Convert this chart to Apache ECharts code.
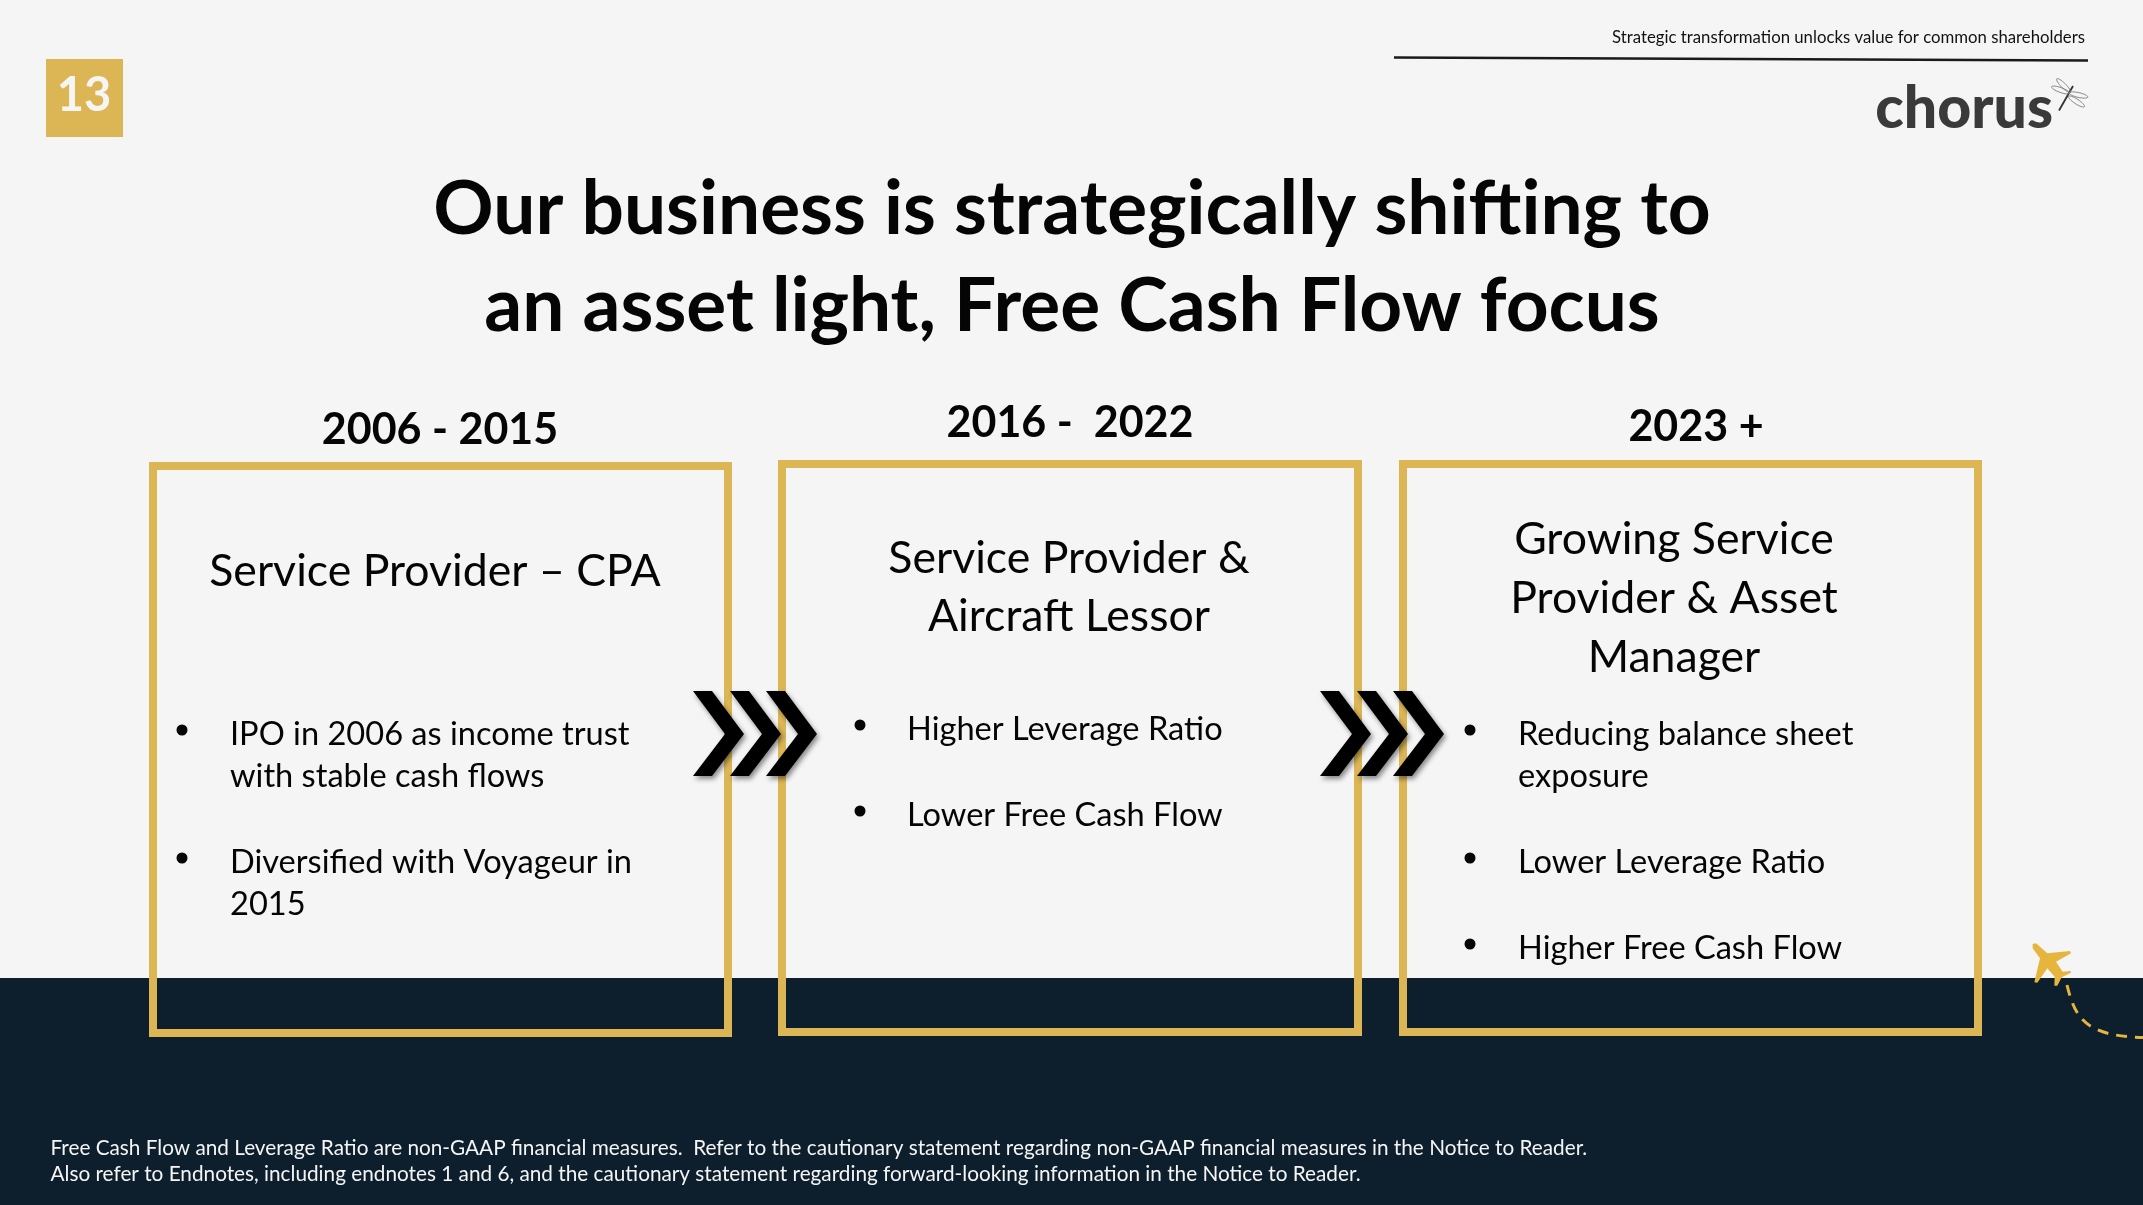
<!DOCTYPE html>
<html>
<head>
<meta charset="utf-8">
<title>Chorus</title>
<script src="https://cdn.jsdelivr.net/npm/echarts@6/dist/echarts.min.js"></script>
<style>
  html, body { margin: 0; padding: 0; background: #f5f5f5; }
  #main { width: 2143px; height: 1205px; }
</style>
</head>
<body>
<div id="main"></div>
<script>
const pageNumber = '13';
const headerNote = 'Strategic transformation unlocks value for common shareholders';
const logoText = 'chorus';
const titleLines = ['Our business is strategically shifting to', 'an asset light, Free Cash Flow focus'];
const periods = ['2006 - 2015', '2016 -  2022', '2023 +'];
const boxHeadings = [
  ['Service Provider \u2013 CPA'],
  ['Service Provider &', 'Aircraft Lessor'],
  ['Growing Service', 'Provider & Asset', 'Manager']
];
const boxBullets = [
  [['IPO in 2006 as income trust', 'with stable cash flows'], ['Diversified with Voyageur in', '2015']],
  [['Higher Leverage Ratio'], ['Lower Free Cash Flow']],
  [['Reducing balance sheet', 'exposure'], ['Lower Leverage Ratio'], ['Higher Free Cash Flow']]
];
const footnotes = [
  'Free Cash Flow and Leverage Ratio are non-GAAP financial measures.  Refer to the cautionary statement regarding non-GAAP financial measures in the Notice to Reader.',
  'Also refer to Endnotes, including endnotes 1 and 6, and the cautionary statement regarding forward-looking information in the Notice to Reader.'
];

const GOLD = '#dcb655';
const NAVY = '#0d1f2d';
const INK = '#050505';
const FONT = 'Lato, "Open Sans", sans-serif';

// layout of the three boxes, measured off the slide
const boxes = [
  { x: 149, y: 462, w: 583, h: 575, periodX: 440, periodY: 430, headX: 435, headY: [572], textX: 230, dotX: 182, lineY: [[734, 776], [862, 904]] },
  { x: 778, y: 460, w: 584, h: 576, periodX: 1070, periodY: 423, headX: 1069, headY: [559, 617], textX: 907, dotX: 860, lineY: [[729], [815]] },
  { x: 1399, y: 460, w: 583, h: 576, periodX: 1696, periodY: 427, headX: 1674, headY: [540, 599, 658], textX: 1518, dotX: 1470, lineY: [[734, 776], [862], [948]] }
];
const chevronGroups = [693, 1320];

function label(text, x, y, size, opts) {
  opts = opts || {};
  return {
    type: 'text', x: x, y: y, z: opts.z || 10,
    style: {
      text: text,
      fill: opts.fill || INK,
      fontFamily: opts.family || FONT,
      fontSize: size,
      fontWeight: opts.weight || 'normal',
      textAlign: opts.align || 'center',
      textVerticalAlign: 'middle'
    }
  };
}

function chevron(x) {
  return {
    type: 'polygon', z: 8,
    shape: { points: [[x, 691], [x + 19, 691], [x + 51, 734], [x + 19, 776], [x, 776], [x + 32, 734]] },
    style: { fill: '#000', shadowBlur: 5, shadowOffsetX: 2, shadowOffsetY: 3, shadowColor: 'rgba(0,0,0,0.45)' }
  };
}

const els = [];
els.push({ type: 'rect', z: 1, shape: { x: 0, y: 978, width: 2143, height: 227 }, style: { fill: NAVY } });

// page number and header
els.push({ type: 'rect', z: 2, shape: { x: 46, y: 59, width: 77, height: 78 }, style: { fill: GOLD } });
els.push(label(pageNumber, 84, 96, 47, { fill: '#f5f5f5', weight: 'bold' }));
els.push(label(headerNote, 2085, 38, 16.75, { align: 'right', fill: '#111' }));
els.push({ type: 'line', z: 3, shape: { x1: 1394, y1: 57.5, x2: 2088, y2: 60.5 }, style: { stroke: '#1a1a1a', lineWidth: 2.4 } });

// logo
els.push(label(logoText, 2053, 109, 59, { align: 'right', fill: '#3a3a3a', weight: 900, family: 'Lato, sans-serif' }));
els.push({ type: 'line', z: 11, shape: { x1: 2073, y1: 86, x2: 2059, y2: 110.5 }, style: { stroke: '#333', lineWidth: 1.8 } });
[[2063.5, 85.5, 0.78], [2060.5, 90, 0.35], [2078.5, 95, 0.22], [2076.5, 101.5, 0.58]].forEach(function (w) {
  els.push({
    type: 'ellipse', z: 11, x: w[0], y: w[1], rotation: -w[2],
    shape: { cx: 0, cy: 0, rx: 9.5, ry: 2.4 },
    style: { fill: 'none', stroke: '#777', lineWidth: 0.8 }
  });
});

// title
titleLines.forEach(function (t, i) {
  els.push(label(t, 1072, [210, 307][i], 74.8, { weight: 'bold' }));
});

// boxes
boxes.forEach(function (b, i) {
  els.push({
    type: 'rect', z: 5,
    shape: { x: b.x + 4, y: b.y + 4, width: b.w - 8, height: b.h - 8 },
    style: { fill: 'none', stroke: GOLD, lineWidth: 8 }
  });
  els.push(label(periods[i], b.periodX, b.periodY, 43, { weight: 'bold' }));
  boxHeadings[i].forEach(function (t, k) {
    els.push(label(t, b.headX, b.headY[k], 44.6));
  });
  boxBullets[i].forEach(function (lines, k) {
    els.push({ type: 'circle', z: 10, shape: { cx: b.dotX, cy: b.lineY[k][0] - 4, r: 5.5 }, style: { fill: INK } });
    lines.forEach(function (t, n) {
      els.push(label(t, b.textX, b.lineY[k][n], 32.6, { align: 'left' }));
    });
  });
});

// chevrons
chevronGroups.forEach(function (x) {
  [0, 37, 73].forEach(function (d) { els.push(chevron(x + d)); });
});

// plane and its dashed trail
const planePoints = [[218, 72], [228, 70], [262, 100], [330, 93], [333, 100], [288, 125], [308, 155], [332, 153], [333, 158], [305, 172], [292, 197], [283, 197], [284, 170], [262, 145], [232, 188], [223, 187], [240, 115], [218, 85]];
els.push({
  type: 'polygon', z: 12,
  shape: { points: planePoints.map(function (p) { return [1960 + p[0] / 3, 920 + p[1] / 3]; }) },
  style: { fill: '#e5b53e' }
});
els.push({
  type: 'bezierCurve', z: 4,
  shape: { x1: 2067, y1: 985, cpx1: 2075, cpy1: 1018, cpx2: 2085, cpy2: 1036, x2: 2143, y2: 1037.5 },
  style: { fill: 'none', stroke: '#e5b53e', lineWidth: 3, lineDash: [11, 8] }
});

// footnotes
footnotes.forEach(function (t, i) {
  els.push(label(t, 50.5, [1148, 1174][i], 20.75, { align: 'left', fill: '#f5f5f5' }));
});

const chart = echarts.init(document.getElementById('main'));
chart.setOption({ backgroundColor: '#f5f5f5', animation: false, graphic: { elements: els } });
</script>
</body>
</html>
